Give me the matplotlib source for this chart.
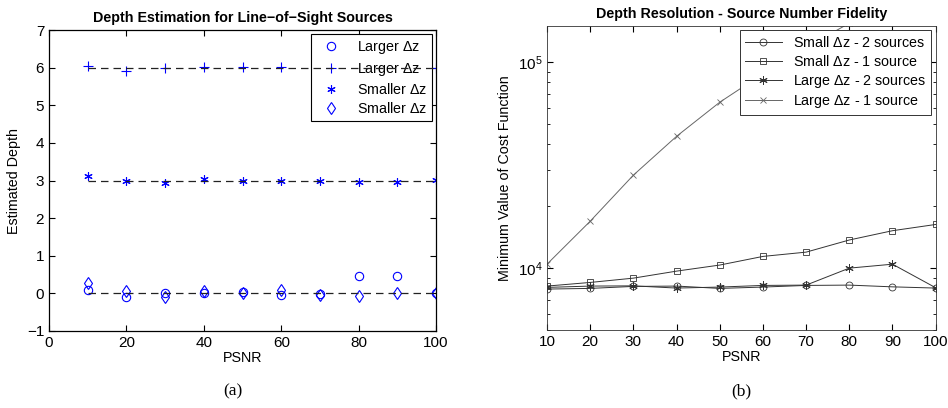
import numpy as np
import matplotlib
matplotlib.use("Agg")
import matplotlib.pyplot as plt
from matplotlib.ticker import LogLocator, NullFormatter

plt.rcParams['font.family'] = ['Liberation Sans', 'DejaVu Sans']
plt.rcParams['mathtext.fontset'] = 'custom'
plt.rcParams['mathtext.rm'] = 'Liberation Sans'

# Datos del panel (a)
psnr = [10, 20, 30, 40, 50, 60, 70, 80, 90, 100]
larger_dz_0 = [0.10, -0.09, 0.00, 0.02, 0.03, -0.05, -0.03, 0.46, 0.46, 0.00]
larger_dz_6 = [6.06, 5.92, 6.00, 6.02, 6.03, 6.01, 6.00, 6.00, 6.00, 6.00]
smaller_dz_3 = [3.11, 3.00, 2.94, 3.04, 2.98, 2.99, 2.98, 2.97, 2.97, 3.01]
smaller_dz_0 = [0.27, 0.05, -0.10, 0.06, 0.02, 0.09, -0.04, -0.07, 0.00, 0.01]
true_depths = [0, 3, 6]

# Datos del panel (b)
small_2src = [7910, 7970, 8150, 8180, 7970, 8090, 8240, 8270, 8110, 8000]
small_1src = [8180, 8520, 8940, 9670, 10350, 11400, 11960, 13700, 15200, 16300]
large_2src = [8060, 8180, 8200, 8000, 8090, 8240, 8270, 10000, 10450, 8030]
large_1src = [10450, 16900, 28300, 43700, 64000, 88000, 118000, 155000, 200000, 250000]

fs = 10.3
fig = plt.figure(figsize=(9.48, 4.08), dpi=100)

# ---- (a) ----
ax1 = fig.add_axes([0.0517, 0.189, 0.4083, 0.737])
for d in true_depths:
    ax1.plot([psnr[0], psnr[-1]], [d, d], linestyle=(0, (6, 4)), color='#222222',
             linewidth=0.9, zorder=6)
ms = 6
asterisk = (6, 2, 0)
ax1.plot(psnr, larger_dz_0, 'o', mfc='none', mec='blue', ms=ms, mew=0.8, label=r'Larger $\Delta$z')
ax1.plot(psnr, larger_dz_6, '+', color='blue', ms=ms + 0.5, mew=0.8, label=r'Larger $\Delta$z')
ax1.plot(psnr, smaller_dz_3, marker=asterisk, linestyle='none', color='blue', ms=ms,
         mew=0.8, label=r'Smaller $\Delta$z')
ax1.plot(psnr, smaller_dz_0, 'd', mfc='none', mec='blue', ms=ms, mew=0.8, label=r'Smaller $\Delta$z')
ax1.set_xlim(0, 100)
ax1.set_ylim(-1, 7)
ax1.set_xticks(range(0, 101, 20))
ax1.set_yticks(range(-1, 8))
ax1.set_xlabel('PSNR', fontsize=fs, labelpad=1)
ax1.set_ylabel('Estimated Depth', fontsize=fs)
ax1.set_title('Depth Estimation for Line\u2212of\u2212Sight Sources', fontsize=fs,
              fontweight='bold', pad=6)
leg1 = ax1.legend(loc='upper right', fontsize=fs, frameon=True, fancybox=False,
                  edgecolor='black', borderaxespad=0.3, handlelength=2.0,
                  labelspacing=0.3, borderpad=0.35, framealpha=1)
leg1.get_frame().set_linewidth(0.8)
leg1.set_zorder(5)

# ---- (b) ----
ax2 = fig.add_axes([0.577, 0.191, 0.410, 0.745])
line_kw = dict(linewidth=0.7, mfc='none', ms=5, mew=0.6)
ax2.plot(psnr, small_2src, '-o', color='#333333', label=r'Small $\Delta$z - 2 sources', **line_kw)
ax2.plot(psnr, small_1src, '-s', color='#333333', label=r'Small $\Delta$z - 1 source', **line_kw)
ax2.plot(psnr, large_2src, marker=asterisk, color='#333333', label=r'Large $\Delta$z - 2 sources',
         linewidth=0.7, ms=6, mew=0.7)
ax2.plot(psnr, large_1src, '-x', color='#666666', label=r'Large $\Delta$z - 1 source', **line_kw)
ax2.set_yscale('log')
ax2.set_xlim(10, 100)
ax2.set_ylim(5000, 150000)
ax2.set_xticks(range(10, 101, 10))
ax2.yaxis.set_minor_locator(LogLocator(base=10, subs=np.arange(2, 10)))
ax2.yaxis.set_minor_formatter(NullFormatter())
ax2.set_xlabel('PSNR', fontsize=fs, labelpad=1)
ax2.set_ylabel('Minimum Value of Cost Function', fontsize=fs)
ax2.set_title('Depth Resolution - Source Number Fidelity', fontsize=fs,
              fontweight='bold', pad=6)
leg2 = ax2.legend(loc='upper right', fontsize=fs, frameon=True, fancybox=False,
                  edgecolor='#333333', borderaxespad=0.3, handlelength=2.6,
                  labelspacing=0.25, borderpad=0.35, framealpha=1)
leg2.get_frame().set_linewidth(0.7)

for ax in (ax1, ax2):
    ax.tick_params(which='both', direction='in', top=True, right=True, labelsize=11)
    ax.tick_params(which='major', length=4)
    ax.tick_params(which='minor', length=2.5)
for s in ax1.spines.values():
    s.set_linewidth(0.9)
for s in ax2.spines.values():
    s.set_linewidth(0.6)
    s.set_color('#333333')

fig.text(0.246, 0.032, '(a)', fontsize=12.5, family='Liberation Serif', ha='center')
fig.text(0.782, 0.032, '(b)', fontsize=12.5, family='Liberation Serif', ha='center')

fig.savefig('out.png', dpi=100)
